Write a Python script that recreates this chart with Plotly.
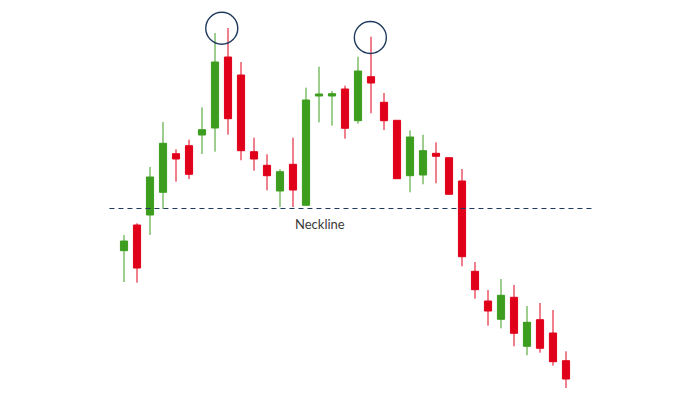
import plotly.graph_objects as go

# ---- data (price units, higher = up) ----
candle_idx = list(range(35))
opens = [149.3, 175.0, 185.0, 207.7, 246.3, 254.3, 265.0, 272.0, 343.0, 325.0,
         248.3, 234.7, 209.0, 235.7, 194.7, 304.0, 304.0, 311.0, 279.3, 323.3,
         297.7, 279.7, 224.3, 225.0, 246.7, 242.3, 219.0, 128.7, 99.0, 80.7,
         102.7, 53.7, 80.3, 67.0, 39.3]
highs = [165.0, 176.7, 233.0, 278.0, 250.7, 260.3, 292.7, 367.0, 372.0, 338.0,
         262.3, 245.7, 230.7, 262.3, 312.3, 333.3, 309.0, 314.3, 343.3, 363.3,
         307.0, 279.7, 269.7, 265.3, 257.7, 242.3, 231.0, 138.0, 110.0, 121.0,
         115.0, 94.0, 97.0, 90.0, 48.7]
lows = [118.0, 117.3, 165.0, 191.0, 218.3, 221.0, 246.0, 248.3, 265.3, 239.7,
        229.3, 209.7, 193.0, 193.0, 194.7, 277.7, 274.3, 261.3, 276.3, 286.7,
        270.0, 221.3, 207.7, 215.7, 216.7, 205.7, 133.7, 101.3, 74.3, 71.7,
        53.7, 44.7, 47.3, 34.3, 12.0]
closes = [159.0, 132.0, 223.0, 256.7, 241.0, 225.7, 270.3, 338.0, 281.3, 249.3,
          241.0, 224.3, 228.3, 210.0, 300.0, 306.0, 306.3, 271.7, 329.0, 317.0,
          279.3, 221.3, 263.0, 249.3, 243.7, 205.7, 143.3, 110.3, 89.0, 104.7,
          66.7, 77.7, 51.7, 38.3, 21.0]

neckline_level = 191.5
neckline_span = [-1.12, 36.08]
peak_centers_x = [7.52, 18.95]
peak_centers_y = [371.7, 362.5]
label_text = "Neckline"
label_pos = (15.05, 176.0)

GREEN = "#3c9d1f"
RED = "#e1001a"
NAVY = "#1f3a5c"

fig = go.Figure(go.Candlestick(
    x=candle_idx, open=opens, high=highs, low=lows, close=closes,
    increasing=dict(line=dict(color=GREEN, width=1), fillcolor=GREEN),
    decreasing=dict(line=dict(color=RED, width=1), fillcolor=RED),
    whiskerwidth=0, hoverinfo="skip", showlegend=False,
))

# neckline
fig.add_shape(type="line", xref="x", yref="y",
              x0=neckline_span[0], x1=neckline_span[1],
              y0=neckline_level, y1=neckline_level,
              line=dict(color=NAVY, width=1, dash="5px,4px"))

# circles around the two peaks
px_per_x = 13.0
r_px = 16.0
for cx, cy in zip(peak_centers_x, peak_centers_y):
    fig.add_shape(type="circle", xref="x", yref="y",
                  x0=cx - r_px / px_per_x, x1=cx + r_px / px_per_x,
                  y0=cy - r_px, y1=cy + r_px,
                  line=dict(color=NAVY, width=1.4))

fig.add_annotation(x=label_pos[0], y=label_pos[1], text=label_text,
                   showarrow=False, xref="x", yref="y",
                   font=dict(family="Lato, Noto Sans, sans-serif", size=13, color="#3a3a3a"))

x0 = -124.0 / px_per_x
fig.update_layout(
    width=700, height=400,
    margin=dict(l=0, r=0, t=0, b=0),
    paper_bgcolor="white", plot_bgcolor="white",
    boxgap=0.45, boxgroupgap=0,
    xaxis=dict(range=[x0, x0 + 700 / px_per_x], visible=False,
               rangeslider=dict(visible=False), fixedrange=True),
    yaxis=dict(range=[0, 400], visible=False, fixedrange=True),
    showlegend=False,
)

fig.write_html("out.html", config={"displayModeBar": False},
               post_script="document.body.style.margin='0';")
